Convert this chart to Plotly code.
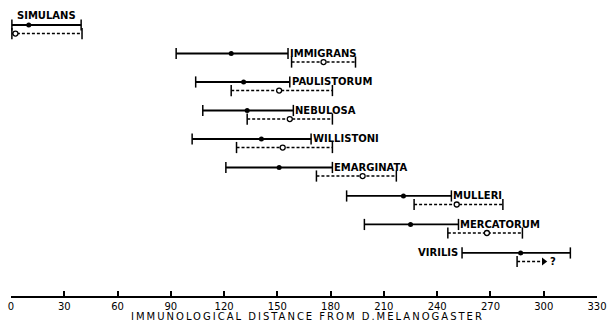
import plotly.graph_objects as go

species = ["SIMULANS", "IMMIGRANS", "PAULISTORUM", "NEBULOSA", "WILLISTONI",
           "EMARGINATA", "MULLERI", "MERCATORUM", "VIRILIS"]
solid_lo = [0.5, 93, 104, 108, 102, 121, 189, 199, 254]
solid_mean = [10, 124, 131, 133, 141, 151, 221, 225, 287]
solid_hi = [39.5, 156, 157, 159, 169, 181, 248, 252, 315]
dash_lo = [0.5, 158, 124, 133, 127, 172, 227, 246, 285]
dash_mean = [2.5, 176, 151, 157, 153, 198, 251, 268, None]
dash_hi = [40, 194, 181, 181, 181, 217, 277, 288, 300]
dash_open_end = [False, False, False, False, False, False, False, False, True]
xticks = [0, 30, 60, 90, 120, 150, 180, 210, 240, 270, 300, 330]
x_title = "IMMUNOLOGICAL DISTANCE FROM D.MELANOGASTER"

OFF = 0.3
fig = go.Figure()

# solid ranges
sx, sy, cx, cy = [], [], [], []
for i in range(len(species)):
    sx += [solid_lo[i], solid_hi[i], None]
    sy += [i, i, None]
    cx += [solid_lo[i], solid_hi[i]]
    cy += [i, i]
fig.add_trace(go.Scatter(x=sx, y=sy, mode="lines",
                         line=dict(color="black", width=1.8), hoverinfo="skip"))
# dashed ranges
dx, dy, dcx, dcy, ax, ay = [], [], [], [], [], []
for i in range(len(species)):
    dx += [dash_lo[i], dash_hi[i], None]
    dy += [i + OFF, i + OFF, None]
    dcx.append(dash_lo[i]); dcy.append(i + OFF)
    if dash_open_end[i]:
        ax.append(dash_hi[i]); ay.append(i + OFF)
    else:
        dcx.append(dash_hi[i]); dcy.append(i + OFF)
fig.add_trace(go.Scatter(x=dx, y=dy, mode="lines",
                         line=dict(color="black", width=1.5, dash="3px,2px"), hoverinfo="skip"))
# end caps
fig.add_trace(go.Scatter(x=cx + dcx, y=cy + dcy, mode="markers",
                         marker=dict(symbol="line-ns", size=8,
                                     line=dict(color="black", width=1.5)), hoverinfo="skip"))
# arrow end
fig.add_trace(go.Scatter(x=ax, y=ay, mode="markers",
                         marker=dict(symbol="triangle-right", size=7, color="black"), hoverinfo="skip"))
# means
fig.add_trace(go.Scatter(x=solid_mean, y=list(range(len(species))), mode="markers",
                         marker=dict(symbol="circle", size=5, color="black"), hoverinfo="skip"))
mx = [m for m in dash_mean if m is not None]
my = [i + OFF for i, m in enumerate(dash_mean) if m is not None]
fig.add_trace(go.Scatter(x=mx, y=my, mode="markers",
                         marker=dict(symbol="circle", size=5, color="white",
                                     line=dict(color="black", width=1.3)), hoverinfo="skip"))

lab_font = dict(family="DejaVu Sans", size=10, color="black")
annotations = []
for i, name in enumerate(species):
    if i == 0:
        annotations.append(dict(x=solid_lo[i], y=i - 0.35, text="<b>%s</b>" % name,
                                xanchor="left", yanchor="middle", showarrow=False,
                                font=lab_font, xshift=3))
    elif i == len(species) - 1:
        annotations.append(dict(x=solid_lo[i], y=i, text="<b>%s</b>" % name,
                                xanchor="right", yanchor="middle", showarrow=False,
                                font=lab_font, xshift=-2))
    else:
        annotations.append(dict(x=solid_hi[i], y=i, text="<b>%s</b>" % name,
                                xanchor="left", yanchor="middle", showarrow=False,
                                font=lab_font, xshift=0))
    if dash_open_end[i]:
        annotations.append(dict(x=dash_hi[i], y=i + OFF, text="<b>?</b>",
                                xanchor="left", yanchor="middle", showarrow=False,
                                font=lab_font, xshift=4))
annotations.append(dict(x=167, y=0, xref="x", yref="paper",
                        text='<span style="letter-spacing:2px">%s</span>' % x_title,
                        xanchor="center", yanchor="top", yshift=-13, showarrow=False,
                        font=dict(family="DejaVu Sans", size=10, color="black")))

fig.update_layout(
    width=610, height=322,
    margin=dict(l=11, r=13, t=0, b=26),
    plot_bgcolor="white", paper_bgcolor="white",
    showlegend=False,
    annotations=annotations,
    xaxis=dict(range=[0, 330], tickvals=xticks, ticktext=[str(t) for t in xticks],
               showgrid=False, zeroline=False, showline=True, linecolor="black",
               linewidth=1.5, ticks="inside", ticklen=5, tickwidth=1.5, tickcolor="black",
               tickfont=dict(family="DejaVu Sans", size=10, color="black")),
    yaxis=dict(range=[9.51, -0.877], visible=False),
)
fig.write_html("out.html", config={"displayModeBar": False},
               post_script="document.body.style.margin='0';document.body.style.overflow='hidden';")
